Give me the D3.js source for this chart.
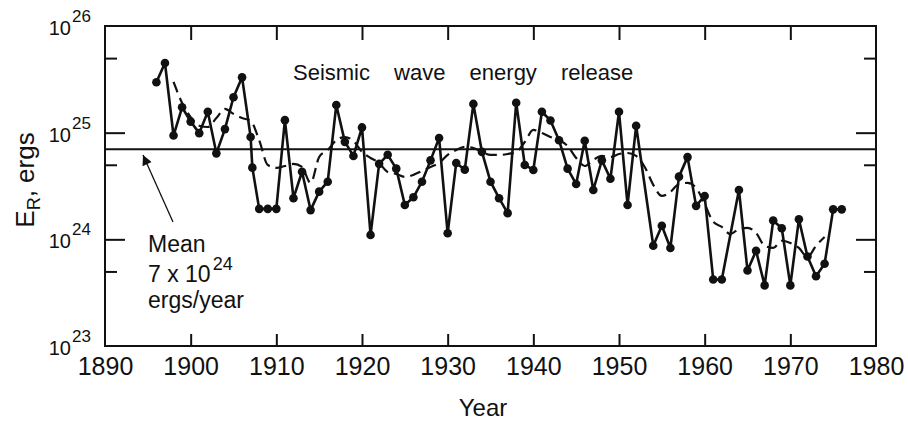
<!DOCTYPE html>
<html>
<head>
<meta charset="utf-8">
<script src="https://cdn.jsdelivr.net/npm/d3@7"></script>
<style>
  body { margin: 0; background: #fff; }
  svg text { font-family: "Liberation Sans", Arial, sans-serif; fill: #111; }
</style>
</head>
<body>
<svg id="chart"></svg>
<script>
const WIDTH = 908;
const HEIGHT = 425;

// yearly seismic wave energy release (ergs)
const years = [1896, 1897, 1898, 1899, 1900, 1901, 1902, 1903, 1904, 1905,
  1906, 1907, 1907.2, 1908, 1909, 1910, 1911, 1912, 1913, 1914, 1915, 1916,
  1917, 1918, 1919, 1920, 1921, 1922, 1923, 1924, 1925, 1926, 1927, 1928,
  1929, 1930, 1931, 1932, 1933, 1934, 1935, 1936, 1937, 1938, 1939, 1940,
  1941, 1942, 1943, 1944, 1945, 1946, 1947, 1948, 1949, 1950, 1951, 1952,
  1954, 1955, 1956, 1957, 1958, 1959, 1960, 1961, 1962, 1964, 1965, 1966,
  1967, 1968, 1969, 1970, 1971, 1972, 1973, 1974, 1975, 1976];
const energy = [2.97e25, 4.5e25, 9.4e24, 1.73e25, 1.27e25, 9.9e24, 1.57e25,
  6.4e24, 1.08e25, 2.15e25, 3.3e25, 9.1e24, 4.7e24, 1.93e24, 1.93e24, 1.93e24,
  1.31e25, 2.43e24, 4.3e24, 1.88e24, 2.8e24, 3.47e24, 1.82e25, 8.2e24, 6.05e24,
  1.12e25, 1.1e24, 5.1e24, 6.2e24, 4.6e24, 2.1e24, 2.48e24, 3.47e24, 5.5e24,
  8.9e24, 1.14e24, 5.2e24, 4.5e24, 1.86e25, 6.6e24, 3.47e24, 2.43e24, 1.76e24,
  1.91e25, 4.98e24, 4.47e24, 1.57e25, 1.3e25, 8.5e24, 4.6e24, 3.3e24, 8.4e24,
  2.9e24, 5.5e24, 3.7e24, 1.57e25, 2.1e24, 1.16e25, 8.7e23, 1.34e24, 8.3e23,
  3.87e24, 5.9e24, 2.06e24, 2.55e24, 4.2e23, 4.2e23, 2.9e24, 5.1e23, 7.8e23,
  3.7e23, 1.5e24, 1.27e24, 3.7e23, 1.54e24, 6.9e23, 4.5e23, 5.9e23, 1.91e24,
  1.91e24];

// running mean (dashed curve)
const smoothYears = d3.range(1898, 1975);
const smoothEnergy = [2.99e25, 1.9e25, 1.4e25, 1.16e25, 1.13e25, 1.37e25,
  1.67e25, 1.5e25, 1.37e25, 1.29e25, 8.5e24, 4.98e24, 4.67e24, 4.87e24,
  5.09e24, 4.77e24, 3.38e24, 5.92e24, 6.89e24, 8.5e24, 9.1e24, 8.36e24,
  6.59e24, 5.79e24, 5.2e24, 4.28e24, 4.1e24, 3.85e24, 4.02e24, 4.38e24,
  4.77e24, 5.2e24, 6.18e24, 6.89e24, 7.35e24, 7.19e24, 6.59e24, 6.18e24,
  6.18e24, 6.31e24, 6.59e24, 8.18e24, 1.06e25, 9.93e24, 9.1e24, 8.5e24,
  7.5e24, 5.79e24, 4.87e24, 5.55e24, 6.05e24, 5.92e24, 6.31e24, 6.45e24,
  6.05e24, 4.77e24, 3.24e24, 2.55e24, 2.78e24, 3.3e24, 3.38e24, 3.03e24,
  2.15e24, 1.46e24, 1.31e24, 1.12e24, 1.25e24, 1.28e24, 1.15e24, 8.7e23,
  8.3e23, 9.7e23, 9.25e23, 8.3e23, 6.84e23, 8.7e23, 1.05e24];

const meanEnergy = 7e24;
const yearTicks = d3.range(1890, 1981, 10);
const majorTicks = [1e24, 1e25];
const minorTicks = [5e23, 5e24, 5e25];
const labelExponents = [23, 24, 25, 26];

makeChart();

function makeChart(){
    const left = 105, right = 876, top = 26, bottom = 346;

    const svg = d3.select('#chart')
        .attr('width', WIDTH)
        .attr('height', HEIGHT);

    const x = d3.scaleLinear().domain([1890, 1980]).range([left, right]);
    const y = d3.scaleLog().domain([1e23, 1e26]).range([bottom, top]);

    // frame
    svg.append('rect')
        .attr('x', left).attr('y', top)
        .attr('width', right - left).attr('height', bottom - top)
        .attr('fill', 'none').attr('stroke', '#111').attr('stroke-width', 2);

    function styleAxis(g){
        g.select('.domain').remove();
        g.selectAll('.tick line').attr('stroke', '#111').attr('stroke-width', 2);
    }

    // bottom axis with year labels, ticks pointing inward
    svg.append('g')
        .attr('transform', `translate(0,${bottom})`)
        .call(d3.axisBottom(x).tickValues(yearTicks).tickSize(-12).tickPadding(11).tickFormat(d3.format('d')))
        .call(styleAxis)
        .call(g => g.selectAll('text').style('font-size', '25px').attr('fill', '#111'))
        .call(g => g.selectAll('.tick line').filter(d => d === 1890 || d === 1980).remove());

    svg.append('g')
        .attr('transform', `translate(0,${top})`)
        .call(d3.axisTop(x).tickValues(yearTicks.slice(1, -1)).tickSize(-14).tickFormat(''))
        .call(styleAxis);

    // left and right log ticks
    [[d3.axisLeft, left], [d3.axisRight, right]].forEach(([axisFn, pos]) => {
        svg.append('g')
            .attr('transform', `translate(${pos},0)`)
            .call(axisFn(y).tickValues(majorTicks).tickSize(-20).tickFormat(''))
            .call(styleAxis);
        svg.append('g')
            .attr('transform', `translate(${pos},0)`)
            .call(axisFn(y).tickValues(minorTicks).tickSize(-12).tickFormat(''))
            .call(styleAxis);
    });

    // power-of-ten labels
    const yLabels = svg.append('g')
        .selectAll('g')
        .data(labelExponents)
        .enter()
        .append('g')
        .attr('transform', d => `translate(0,${y(Math.pow(10, d))})`);
    yLabels.append('text')
        .attr('x', 71).attr('y', 9)
        .attr('text-anchor', 'end')
        .style('font-size', '20px')
        .text('10');
    yLabels.append('text')
        .attr('x', 72).attr('y', -4)
        .style('font-size', '17px')
        .text(d => d);

    // mean line
    svg.append('line')
        .attr('x1', left).attr('x2', right)
        .attr('y1', y(meanEnergy)).attr('y2', y(meanEnergy))
        .attr('stroke', '#111').attr('stroke-width', 2);

    // running mean, dashed
    const smooth = smoothYears.map((yr, i) => ({year: yr, value: smoothEnergy[i]}));
    svg.append('path')
        .datum(smooth)
        .attr('d', d3.line().x(d => x(d.year)).y(d => y(d.value)).curve(d3.curveMonotoneX))
        .attr('fill', 'none')
        .attr('stroke', '#111')
        .attr('stroke-width', 2.2)
        .attr('stroke-dasharray', '11,6');

    // yearly values
    const points = years.map((yr, i) => ({year: yr, value: energy[i]}));
    svg.append('path')
        .datum(points)
        .attr('d', d3.line().x(d => x(d.year)).y(d => y(d.value)))
        .attr('fill', 'none')
        .attr('stroke', '#111')
        .attr('stroke-width', 2.6)
        .attr('stroke-linejoin', 'round');

    svg.append('g')
        .selectAll('circle')
        .data(points)
        .enter()
        .append('circle')
        .attr('cx', d => x(d.year))
        .attr('cy', d => y(d.value))
        .attr('r', 4.3)
        .attr('fill', '#111');

    // title
    svg.append('text')
        .attr('x', 293).attr('y', 80)
        .style('font-size', '22px')
        .style('word-spacing', '18px')
        .text('Seismic wave energy release');

    // mean annotation with arrow
    svg.append('defs').append('marker')
        .attr('id', 'arrow')
        .attr('viewBox', '0 0 10 10')
        .attr('refX', 10).attr('refY', 5)
        .attr('markerWidth', 14).attr('markerHeight', 10)
        .attr('markerUnits', 'userSpaceOnUse')
        .attr('orient', 'auto')
        .append('path')
        .attr('d', 'M0,0L10,5L0,10Z')
        .attr('fill', '#111');

    svg.append('line')
        .attr('x1', 173).attr('y1', 222)
        .attr('x2', 143).attr('y2', 155)
        .attr('stroke', '#111').attr('stroke-width', 1.3)
        .attr('marker-end', 'url(#arrow)');

    const note = svg.append('g').style('font-size', '23px');
    note.append('text').attr('x', 148).attr('y', 252).text('Mean');
    const sci = note.append('text').attr('x', 148).attr('y', 282);
    sci.append('tspan').text('7 x 10');
    sci.append('tspan').attr('dx', 2).attr('dy', -12).style('font-size', '18px').text('24');
    note.append('text').attr('x', 148).attr('y', 308).text('ergs/year');

    // axis titles
    svg.append('text')
        .attr('x', 483).attr('y', 416)
        .attr('text-anchor', 'middle')
        .style('font-size', '24px')
        .text('Year');

    const yTitle = svg.append('text')
        .attr('transform', 'translate(34,180) rotate(-90)')
        .attr('text-anchor', 'middle')
        .style('font-size', '26px');
    yTitle.append('tspan').text('E');
    yTitle.append('tspan').attr('dy', 6).style('font-size', '18px').text('R');
    yTitle.append('tspan').attr('dy', -6).text(', ergs');
}
</script>
</body>
</html>
